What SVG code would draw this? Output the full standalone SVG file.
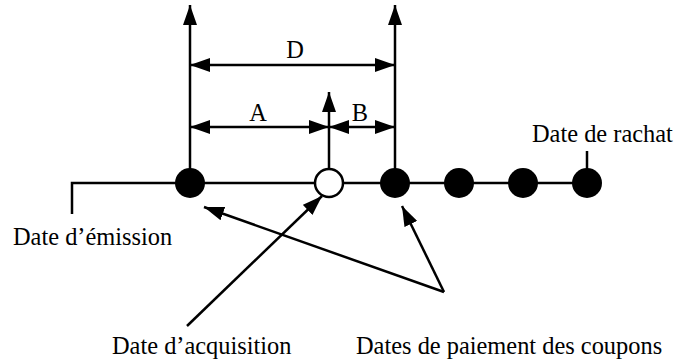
<svg xmlns="http://www.w3.org/2000/svg" width="678" height="362" viewBox="0 0 678 362">
<defs>
<marker id="ah" viewBox="0 0 20 14" refX="20" refY="7" markerWidth="20" markerHeight="14" markerUnits="userSpaceOnUse" orient="auto-start-reverse">
<path d="M0,0 L20,7 L0,14 Z" fill="#000"/>
</marker>
<style>
.ln{stroke:#000;stroke-width:2.5;fill:none}
.t{font-family:"Liberation Serif","Times New Roman",serif;font-size:24.4px;fill:#000}
.dot{fill:#000}
.open{fill:#fff;stroke:#000;stroke-width:2.5}
</style>
</defs>
<g id="connectors">
<polyline class="ln" points="72,214 72,183 587,183"/>
<line class="ln" x1="190" y1="183" x2="190" y2="5" marker-end="url(#ah)"/>
<line class="ln" x1="395" y1="183" x2="395" y2="5" marker-end="url(#ah)"/>
<line class="ln" x1="329" y1="183" x2="329" y2="92" marker-end="url(#ah)"/>
<line class="ln" x1="190" y1="65" x2="395" y2="65" marker-start="url(#ah)" marker-end="url(#ah)"/>
<line class="ln" x1="190" y1="127" x2="329" y2="127" marker-start="url(#ah)" marker-end="url(#ah)"/>
<line class="ln" x1="329" y1="127" x2="395" y2="127" marker-start="url(#ah)" marker-end="url(#ah)"/>
<line class="ln" x1="587" y1="151" x2="587" y2="183"/>
<line class="ln" x1="444" y1="292" x2="204" y2="207" marker-end="url(#ah)"/>
<line class="ln" x1="444" y1="292" x2="402" y2="206" marker-end="url(#ah)"/>
<line class="ln" x1="187" y1="326" x2="322" y2="196" marker-end="url(#ah)"/>
</g>
<g id="n-emission"><circle class="dot" cx="190" cy="183" r="15"/></g>
<g id="n-acquisition"><circle class="open" cx="329" cy="183" r="14"/></g>
<g id="n-c1"><circle class="dot" cx="395" cy="183" r="15"/></g>
<g id="n-c2"><circle class="dot" cx="459" cy="183" r="15"/></g>
<g id="n-c3"><circle class="dot" cx="523" cy="183" r="15"/></g>
<g id="n-rachat"><circle class="dot" cx="587" cy="183" r="15"/></g>
<g id="labels">
<text class="t" x="295" y="58" text-anchor="middle">D</text>
<text class="t" x="258" y="121" text-anchor="middle">A</text>
<text class="t" x="360" y="121" text-anchor="middle">B</text>
<text class="t" x="532" y="142">Date de rachat</text>
<text class="t" x="13" y="245">Date d’émission</text>
<text class="t" x="112" y="354">Date d’acquisition</text>
<text class="t" x="356" y="354">Dates de paiement des coupons</text>
</g>
</svg>
